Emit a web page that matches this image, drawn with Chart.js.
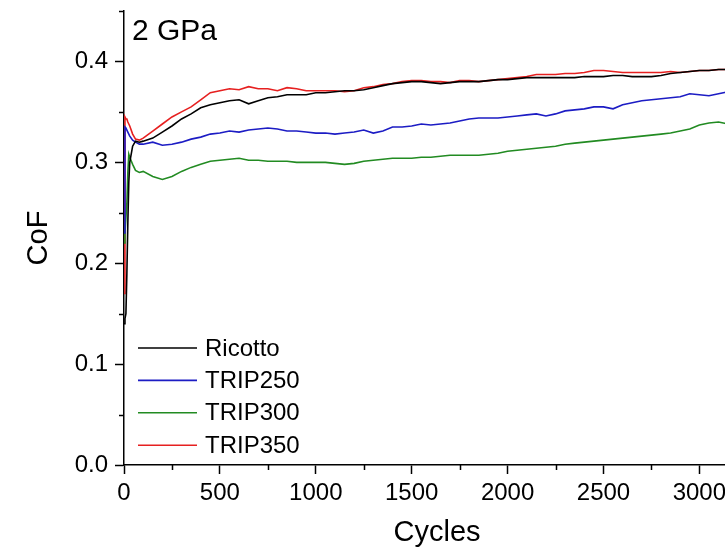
<!DOCTYPE html>
<html>
<head>
<meta charset="utf-8">
<script src="https://cdn.jsdelivr.net/npm/chart.js@4/dist/chart.umd.min.js"></script>
<style>
  html, body { margin: 0; padding: 0; background: #fff; overflow: hidden; }
  #wrap { width: 770px; height: 547px; }
</style>
</head>
<body>
<div id="wrap"><canvas id="c" width="770" height="547"></canvas></div>
<script>
// ---- data ----
const cycles = [0,5,10,15,20,25,30,45,60,80,100,
  150,200,250,300,350,400,450,500,550,600,
  650,700,750,800,850,900,950,1000,1050,1100,
  1150,1200,1250,1300,1350,1400,1450,1500,1550,1600,
  1650,1700,1750,1800,1850,1900,1950,2000,2050,2100,
  2150,2200,2250,2300,2350,2400,2450,2500,2550,2600,
  2650,2700,2750,2800,2850,2900,2950,3000,3050,3100,
  3150];
const seriesNames = ['Ricotto','TRIP250','TRIP300','TRIP350'];
const ricotto = [0.14,0.145,0.15,0.19,0.24,0.28,0.30,0.316,0.321,0.320,0.321,
  0.324,0.330,0.336,0.343,0.348,0.354,0.357,0.359,0.361,0.362,
  0.358,0.361,0.364,0.365,0.367,0.367,0.367,0.369,0.369,0.370,
  0.371,0.371,0.372,0.374,0.376,0.378,0.379,0.380,0.380,0.379,
  0.378,0.379,0.380,0.380,0.380,0.381,0.382,0.382,0.383,0.384,
  0.384,0.384,0.384,0.384,0.384,0.385,0.385,0.385,0.386,0.386,
  0.385,0.385,0.385,0.386,0.388,0.389,0.390,0.391,0.391,0.392,
  0.392];
const trip250 = [0.23,0.335,0.334,0.332,0.330,0.328,0.326,0.322,0.320,0.318,0.318,
  0.320,0.317,0.318,0.320,0.323,0.325,0.328,0.329,0.331,0.330,
  0.332,0.333,0.334,0.333,0.331,0.331,0.330,0.329,0.329,0.328,
  0.329,0.330,0.332,0.329,0.331,0.335,0.335,0.336,0.338,0.337,
  0.338,0.339,0.341,0.343,0.344,0.344,0.344,0.345,0.346,0.347,
  0.348,0.346,0.348,0.351,0.352,0.353,0.355,0.355,0.353,0.357,
  0.359,0.361,0.362,0.363,0.364,0.365,0.368,0.367,0.366,0.368,
  0.370];
const trip300 = [0.22,0.23,0.245,0.26,0.29,0.308,0.305,0.298,0.292,0.290,0.291,
  0.286,0.283,0.286,0.291,0.295,0.298,0.301,0.302,0.303,0.304,
  0.302,0.302,0.301,0.301,0.301,0.300,0.300,0.300,0.300,0.299,
  0.298,0.299,0.301,0.302,0.303,0.304,0.304,0.304,0.305,0.305,
  0.306,0.307,0.307,0.307,0.307,0.308,0.309,0.311,0.312,0.313,
  0.314,0.315,0.316,0.318,0.319,0.320,0.321,0.322,0.323,0.324,
  0.325,0.326,0.327,0.328,0.329,0.331,0.333,0.337,0.339,0.340,
  0.338];
const trip350 = [0.17,0.345,0.343,0.343,0.340,0.338,0.336,0.328,0.323,0.322,0.324,
  0.331,0.338,0.345,0.350,0.355,0.362,0.369,0.371,0.373,0.372,
  0.375,0.373,0.373,0.371,0.374,0.373,0.371,0.371,0.371,0.371,
  0.370,0.371,0.374,0.375,0.377,0.378,0.380,0.381,0.381,0.380,
  0.380,0.379,0.381,0.381,0.380,0.381,0.382,0.383,0.384,0.385,
  0.387,0.387,0.387,0.388,0.388,0.389,0.391,0.391,0.390,0.389,
  0.389,0.389,0.389,0.389,0.390,0.389,0.390,0.391,0.391,0.392,
  0.392];
const xTicks = [0,500,1000,1500,2000,2500,3000];
const yTicks = [0.0,0.1,0.2,0.3,0.4];
const annotationText = '2 GPa';
const xTitle = 'Cycles';
const yTitle = 'CoF';

// ---- styling ----
const FONT = "'Liberation Sans', Arial, Helvetica, sans-serif";
const colors = ['#000000', '#1c1cc4', '#228b22', '#e62020'];
const allSeries = [ricotto, trip250, trip300, trip350];

const datasets = allSeries.map((vals, k) => ({
  label: seriesNames[k],
  data: cycles.map((c, i) => ({ x: c, y: vals[i] })),
  borderColor: colors[k],
  backgroundColor: colors[k],
  borderWidth: 1.6,
  pointRadius: 0,
  tension: 0,
  fill: false
}));

const extras = {
  id: 'extras',
  afterDraw(chart) {
    const ctx = chart.ctx;
    const xs = chart.scales.x, ys = chart.scales.y;
    const a = chart.chartArea;
    ctx.save();
    // minor ticks
    ctx.strokeStyle = '#000';
    ctx.lineWidth = 1.5;
    ctx.beginPath();
    for (let i = 0; i < xTicks.length; i++) {
      const v = xTicks[i] + 250;
      if (v > xs.max) break;
      const px = Math.round(xs.getPixelForValue(v)) + 0.5;
      ctx.moveTo(px, a.bottom); ctx.lineTo(px, a.bottom + 5);
    }
    for (let i = 0; i < yTicks.length; i++) {
      const v = yTicks[i] + 0.05;
      if (v > ys.max + 1e-9) break;
      const py = Math.round(ys.getPixelForValue(v)) + 0.5;
      ctx.moveTo(a.left, py); ctx.lineTo(a.left - 5, py);
    }
    ctx.stroke();
    // annotation
    ctx.fillStyle = '#000';
    ctx.font = '30px ' + FONT;
    ctx.textAlign = 'left';
    ctx.textBaseline = 'alphabetic';
    ctx.fillText(annotationText, a.left + 8, a.top + 29);
    // legend
    ctx.font = '24px ' + FONT;
    ctx.textBaseline = 'middle';
    const y0 = a.bottom - 117, step = 32.4;
    chart.data.datasets.forEach((ds, k) => {
      const y = y0 + k * step;
      ctx.strokeStyle = ds.borderColor;
      ctx.lineWidth = 1.6;
      ctx.beginPath();
      ctx.moveTo(a.left + 14, y); ctx.lineTo(a.left + 73, y);
      ctx.stroke();
      ctx.fillStyle = '#000';
      ctx.fillText(ds.label, a.left + 81, y + 1);
    });
    ctx.restore();
  }
};

new Chart(document.getElementById('c'), {
  type: 'line',
  data: { datasets },
  options: {
    responsive: false,
    animation: false,
    devicePixelRatio: 1,
    layout: { padding: { top: 11, right: 20, left: 0, bottom: 0 } },
    plugins: { legend: { display: false }, tooltip: { enabled: false } },
    scales: {
      x: {
        type: 'linear',
        min: 0, max: 3264,
        afterFit(s) { s.height = 82; s.paddingLeft = 0; s.paddingRight = 0; },
        afterBuildTicks(s) { s.ticks = xTicks.map(v => ({ value: v })); },
        ticks: { color: '#000', font: { family: FONT, size: 24 }, padding: 5, maxRotation: 0, autoSkip: false,
          callback: v => String(v) },
        grid: { display: true, drawOnChartArea: false, drawTicks: true, tickLength: 9, tickColor: '#000', tickWidth: 1.5 },
        border: { display: true, color: '#000', width: 1.5 },
        title: { display: true, text: xTitle, color: '#000', font: { family: FONT, size: 29 }, padding: { top: 0, bottom: -3 } }
      },
      y: {
        type: 'linear',
        min: 0, max: 0.45,
        afterFit(s) { s.width = 124; s.paddingTop = 0; s.paddingBottom = 0; },
        afterBuildTicks(s) { s.ticks = yTicks.map(v => ({ value: v })); },
        ticks: { color: '#000', font: { family: FONT, size: 24 }, padding: 7, autoSkip: false,
          callback: v => Number(v).toFixed(1) },
        grid: { display: true, drawOnChartArea: false, drawTicks: true, tickLength: 9, tickColor: '#000', tickWidth: 1.5 },
        border: { display: true, color: '#000', width: 1.5 },
        title: { display: true, text: yTitle, color: '#000', font: { family: FONT, size: 29 }, padding: { top: 22, bottom: 0 } }
      }
    }
  },
  plugins: [extras]
});
</script>
</body>
</html>
